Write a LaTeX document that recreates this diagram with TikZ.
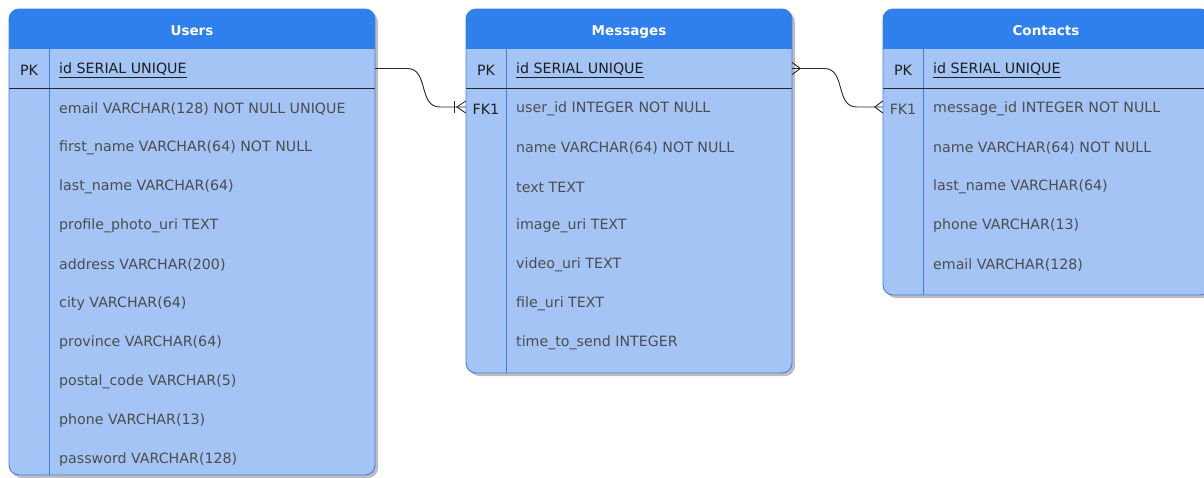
\documentclass[tikz,border=0pt]{standalone}
\usepackage{fontspec}
\setmainfont{DejaVu Sans}
\usetikzlibrary{calc}
\definecolor{hdr}{HTML}{2F80ED}
\definecolor{bodyfill}{HTML}{A3C4F5}
\definecolor{edgeblue}{HTML}{3F7FE6}
\definecolor{fieldtxt}{HTML}{4D4D4D}
\definecolor{keytxt}{HTML}{1F1F1F}
\definecolor{shadowgray}{HTML}{BDBDBD}
\tikzset{
  tabletitle/.style={anchor=base, text=white, font=\fontsize{13.5}{16}\selectfont\bfseries, inner sep=0pt},
  field/.style={anchor=west, text=fieldtxt, font=\fontsize{14.2}{17}\selectfont, inner sep=0pt},
  keyname/.style={anchor=west, text=keytxt, font=\fontsize{14.2}{17}\selectfont, inner sep=0pt},
  keytag/.style={text=keytxt, font=\fontsize{14.2}{17}\selectfont, inner sep=0pt},
  fieldtag/.style={text=fieldtxt, font=\fontsize{14.2}{17}\selectfont, inner sep=0pt},
  rowbox/.style={inner sep=0pt, minimum height=39pt},
  conn/.style={draw=black!85, line width=0.9pt},
  divider/.style={draw=edgeblue, line width=0.9pt},
  keyrule/.style={draw=black!85, line width=1pt},
}
\begin{document}
\begin{tikzpicture}[x=1pt,y=-1pt]
\useasboundingbox (0,0) rectangle (1204,477);

% ---------- Users ----------
\fill[shadowgray, rounded corners=10pt] (12,12) rectangle (378,478);
\begin{scope}
  \clip[rounded corners=10pt] (9,9) rectangle (375,475);
  \fill[bodyfill] (9,9) rectangle (375,475);
  \fill[hdr] (9,9) rectangle (375,49);
\end{scope}
\draw[divider] (49,49) -- (49,475);
\draw[keyrule] (9,88) -- (375,88);
\draw[edgeblue, line width=0.9pt, rounded corners=10pt] (9,9) rectangle (375,475);
\node[tabletitle] (uT) at (192,35) {Users};
\node[rowbox, minimum width=366pt] (uPK) at (192,68.5) {};
\node[keytag] (uPKt) at (29,70.5) {PK};
\node[keyname] (uPKn) at (59,70.5) {\underline{id SERIAL UNIQUE}};
\foreach \t [count=\i from 0] in {
  {email VARCHAR(128) NOT NULL UNIQUE},
  {first\_name VARCHAR(64) NOT NULL},
  {last\_name VARCHAR(64)},
  {profile\_photo\_uri TEXT},
  {address VARCHAR(200)},
  {city VARCHAR(64)},
  {province VARCHAR(64)},
  {postal\_code VARCHAR(5)},
  {phone VARCHAR(13)},
  {password VARCHAR(128)}}
  \node[field] (u\i) at (59,109+39*\i) {\t};

% ---------- Messages ----------
\fill[shadowgray, rounded corners=10pt] (469,12) rectangle (795,376);
\begin{scope}
  \clip[rounded corners=10pt] (466,9) rectangle (792,373);
  \fill[bodyfill] (466,9) rectangle (792,373);
  \fill[hdr] (466,9) rectangle (792,49);
\end{scope}
\draw[divider] (506,49) -- (506,373);
\draw[keyrule] (466,88) -- (792,88);
\draw[edgeblue, line width=0.9pt, rounded corners=10pt] (466,9) rectangle (792,373);
\node[tabletitle] (mT) at (629,35) {Messages};
\node[rowbox, minimum width=326pt] (mPK) at (629,68.5) {};
\node[rowbox, minimum width=326pt] (mFK) at (629,107) {};
\node[keytag] (mPKt) at (486,70.5) {PK};
\node[keyname] (mPKn) at (516,70.5) {\underline{id SERIAL UNIQUE}};
\node[keytag] (mFKt) at (486,109) {FK1};
\foreach \t [count=\i from 0] in {
  {user\_id INTEGER NOT NULL},
  {name VARCHAR(64) NOT NULL},
  {text TEXT},
  {image\_uri TEXT},
  {video\_uri TEXT},
  {file\_uri TEXT},
  {time\_to\_send INTEGER}}
  \node[field] (m\i) at (516,109+39*\i) {\t};

% ---------- Contacts ----------
\fill[shadowgray, rounded corners=10pt] (886,12) rectangle (1213,298);
\begin{scope}
  \clip[rounded corners=10pt] (883,9) rectangle (1210,295);
  \fill[bodyfill] (883,9) rectangle (1210,295);
  \fill[hdr] (883,9) rectangle (1210,49);
\end{scope}
\draw[divider] (923,49) -- (923,295);
\draw[keyrule] (883,88) -- (1210,88);
\draw[edgeblue, line width=0.9pt, rounded corners=10pt] (883,9) rectangle (1210,295);
\node[tabletitle] (cT) at (1046,35) {Contacts};
\node[rowbox, minimum width=327pt] (cPK) at (1046.5,68.5) {};
\node[rowbox, minimum width=327pt] (cFK) at (1046.5,107) {};
\node[keytag] (cPKt) at (903,70.5) {PK};
\node[keyname] (cPKn) at (933,70.5) {\underline{id SERIAL UNIQUE}};
\node[fieldtag] (cFKt) at (903,109) {FK1};
\foreach \t [count=\i from 0] in {
  {message\_id INTEGER NOT NULL},
  {name VARCHAR(64) NOT NULL},
  {last\_name VARCHAR(64)},
  {phone VARCHAR(13)},
  {email VARCHAR(128)}}
  \node[field] (c\i) at (933,109+39*\i) {\t};

% ---------- Users.id -> Messages.user_id (one to many) ----------
\coordinate (k1) at ($(mFK.west)+(-26,0)$);
\draw[conn] (uPK.east) -- ++(32,0) .. controls +(22,0) and +(-22,0) .. (k1) -- (mFK.west);
\draw[conn] ($(mFK.west)+(0,-6)$) -- ($(mFK.west)+(-9,0)$) -- ($(mFK.west)+(0,6)$);
\draw[conn] ($(mFK.west)+(-11,-6)$) -- ($(mFK.west)+(-11,6)$);

% ---------- Messages.id -> Contacts.message_id (many to many) ----------
\coordinate (k2) at ($(cFK.west)+(-26,0)$);
\draw[conn] (mPK.east) -- ++(32,0) .. controls +(22,0) and +(-22,0) .. (k2) -- (cFK.west);
\draw[conn] ($(mPK.east)+(0,-6)$) -- ($(mPK.east)+(8,0)$) -- ($(mPK.east)+(0,6)$);
\draw[conn] ($(cFK.west)+(0,-6)$) -- ($(cFK.west)+(-8,0)$) -- ($(cFK.west)+(0,6)$);
\end{tikzpicture}
\end{document}
